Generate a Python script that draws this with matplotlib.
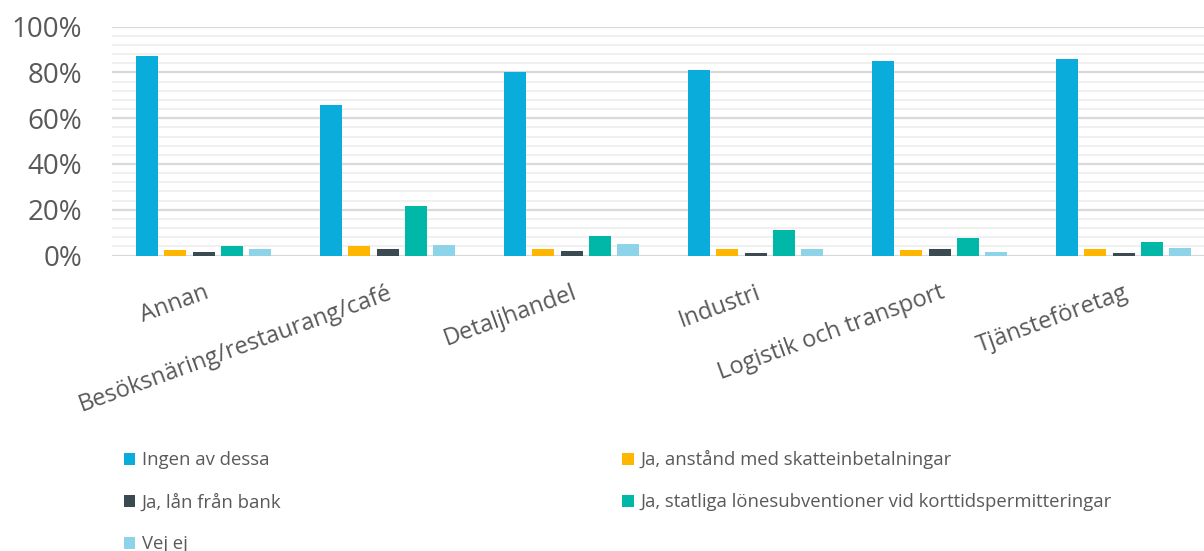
import matplotlib
matplotlib.use("Agg")
import matplotlib.pyplot as plt
import numpy as np
from matplotlib.ticker import MultipleLocator, FuncFormatter

categories = ["Annan", "Besöksnäring/restaurang/café", "Detaljhandel",
              "Industri", "Logistik och transport", "Tjänsteföretag"]
series_names = ["Ingen av dessa",
                "Ja, anstånd med skatteinbetalningar",
                "Ja, lån från bank",
                "Ja, statliga lönesubventioner vid korttidspermitteringar",
                "Vej ej"]
ingen = [87.4, 65.6, 80.4, 81.1, 84.9, 85.8]
anstand = [2.5, 4.0, 3.0, 2.7, 2.3, 3.0]
lan = [1.5, 3.0, 2.1, 1.2, 3.0, 1.2]
statliga = [4.1, 21.7, 8.6, 11.1, 7.8, 5.9]
vejej = [3.0, 4.6, 5.0, 3.0, 1.7, 3.3]
series = [ingen, anstand, lan, statliga, vejej]
colors = ["#0aacdb", "#ffb600", "#394a50", "#00b7a8", "#8ed4e8"]

plt.rcParams['font.family'] = ['Open Sans', 'DejaVu Sans']

W, H = 1204, 551
fig = plt.figure(figsize=(W / 100, H / 100), dpi=100)
left, right = 111.6, 1215.6
y0, y100 = 255.5, 26.7
ax = fig.add_axes([left / W, (H - y0) / H, (right - left) / W, (y0 - y100) / H])

x = np.arange(len(categories))
slot = 28.25 / 184
bw = 22 / 184
handles = []
for i, (vals, c) in enumerate(zip(series, colors)):
    h = ax.bar(x + (i - 2) * slot, vals, width=bw, color=c, zorder=3,
               label=series_names[i])
    handles.append(h)

ax.set_xlim(-0.5, len(categories) - 0.5)
ax.set_ylim(0, 100)
ax.yaxis.set_major_locator(MultipleLocator(20))
ax.yaxis.set_minor_locator(MultipleLocator(4))
ax.yaxis.set_major_formatter(FuncFormatter(lambda v, p: f"{v:.0f}%"))
ax.grid(which='major', axis='y', color='#d9d9d9', lw=1.6, zorder=0)
ax.grid(which='minor', axis='y', color='#f0f0f0', lw=1.4, zorder=0)
for s in ax.spines.values():
    s.set_visible(False)
ax.tick_params(axis='y', which='both', length=0, labelsize=20,
               labelcolor='#595959', pad=21)
ax.tick_params(axis='x', length=0, labelsize=17, labelcolor='#595959', pad=18)
ax.set_xticks(x)
ax.set_xticklabels(categories, rotation=20, ha='right', va='top',
                   rotation_mode='anchor')

order = [0, 2, 4, 1, 3]
leg = fig.legend([handles[i] for i in order], [series_names[i] for i in order],
                 ncol=2, loc='upper left', bbox_to_anchor=(124 / W, 1 - 450 / H),
                 frameon=False, fontsize=13.3, labelcolor='#595959',
                 handlelength=0.62, handleheight=0.62, handletextpad=0.35,
                 columnspacing=18.45, labelspacing=1.3, borderpad=0,
                 borderaxespad=0)

fig.savefig("out.png", dpi=100)
